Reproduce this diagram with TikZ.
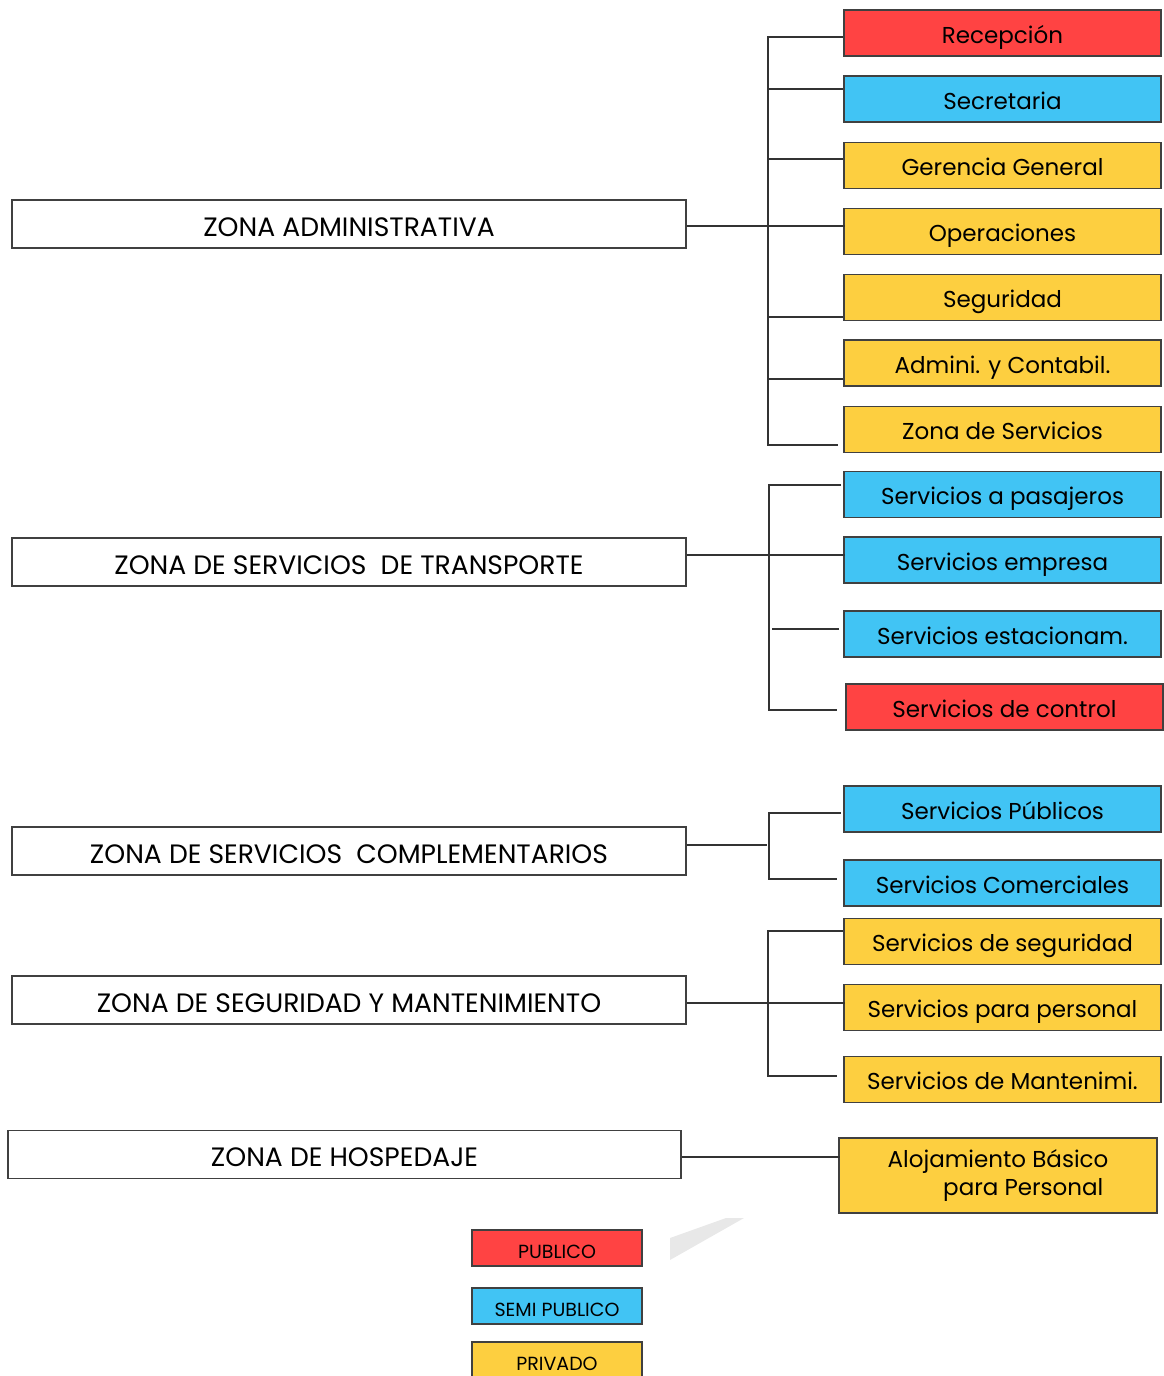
\documentclass[tikz,border=0pt]{standalone}
\usepackage{fontspec}
\setmainfont{Poppins}
\usepackage{tikz}
\usetikzlibrary{calc, positioning}

\definecolor{pubred}{HTML}{FF4343}
\definecolor{semiblue}{HTML}{41C4F4}
\definecolor{privyel}{HTML}{FDCF40}

\tikzset{
	zona/.style={draw=black!75, fill=white, line width=0.9pt, minimum width=337pt, minimum height=24pt, inner sep=0pt, text height=12pt, text depth=0pt, font=\fontsize{13.3}{15}\selectfont},
	area/.style={draw=black!75, line width=0.9pt, minimum width=158.5pt, minimum height=23pt, inner sep=0pt, text height=10pt, text depth=0pt, font=\fontsize{11.5}{14}\selectfont},
	leyenda/.style={draw=black!75, line width=0.9pt, minimum width=85pt, minimum height=18pt, inner sep=0pt, text height=10pt, text depth=0pt, font=\fontsize{9.5}{11}\selectfont},
	conn/.style={draw=black!80, line width=0.75pt}
}

\begin{document}
\begin{tikzpicture}[x=0.5pt, y=-0.5pt]
			\useasboundingbox (0,0) rectangle (1163,1376);
			
			% Zonas
			\node[zona] (zadm) at (349,224) {ZONA ADMINISTRATIVA};
			\node[zona] (ztra) at (349,562) {ZONA DE SERVICIOS\ \ DE TRANSPORTE};
			\node[zona] (zcom) at (349,851) {ZONA DE SERVICIOS\ \ COMPLEMENTARIOS};
			\node[zona] (zseg) at (349,1000) {ZONA DE SEGURIDAD Y MANTENIMIENTO};
			\node[zona, minimum width=336.5pt] (zhos) at (344.5,1154.5) {ZONA DE HOSPEDAJE};
			
			% Zona administrativa
			\node[area, fill=pubred] (recep) at (1002.5,33) {Recepción};
			\node[area, fill=semiblue] (secre) at (1002.5,99) {Secretaria};
			\node[area, fill=privyel] (geren) at (1002.5,165.5) {Gerencia General};
			\node[area, fill=privyel] (oper) at (1002.5,231.5) {Operaciones};
			\node[area, fill=privyel] (segur) at (1002.5,297.5) {Seguridad};
			\node[area, fill=privyel] (admin) at (1002.5,363) {Admini. y Contabil.};
			\node[area, fill=privyel] (zserv) at (1002.5,429.5) {Zona de Servicios};
			
			\draw[conn] ([yshift=-1pt]zadm.east) -- ++(158,0);
			\draw[conn, shorten >=2.5pt] ([yshift=-2pt]recep.west) -- ++(-75,0) |- ([yshift=-7.75pt]zserv.west);
			\draw[conn] ([yshift=5pt]secre.west) -- ++(-75,0);
			\draw[conn] ([yshift=3.25pt]geren.west) -- ++(-75,0);
			\draw[conn] ([yshift=-9.75pt]segur.west) -- ++(-75,0);
			\draw[conn] ([yshift=-8pt]admin.west) -- ++(-75,0);
			
			% Servicios de transporte
			\node[area, fill=semiblue] (pasaj) at (1002.5,494.5) {Servicios a pasajeros};
			\node[area, fill=semiblue] (empre) at (1002.5,560) {Servicios empresa};
			\node[area, fill=semiblue] (estac) at (1002.5,634) {Servicios estacionam.};
			\node[area, fill=pubred] (contr) at (1004.5,707) {Servicios de control};
			
			\draw[conn] ([yshift=3.5pt]ztra.east) -- ++(158,0);
			\draw[conn, shorten <=1pt, shorten >=4pt] ([yshift=4.75pt]pasaj.west) -- ++(-74,0) |- ([yshift=-1.5pt]contr.west);
			\draw[conn] ([xshift=-2pt, yshift=2.5pt]estac.west) -- ++(-67,0);
			
			% Servicios complementarios
			\node[area, fill=semiblue] (publi) at (1002.5,809) {Servicios Públicos};
			\node[area, fill=semiblue] (comer) at (1002.5,883) {Servicios Comerciales};
			
			\draw[conn] ([yshift=3pt]zcom.east) -- ++(80,0);
			\draw[conn, shorten <=1pt, shorten >=3pt] ([yshift=-2pt]publi.west) -- ++(-74,0) |- ([yshift=2pt]comer.west);
			
			% Seguridad y mantenimiento
			\node[area, fill=privyel] (sseg) at (1002.5,941.5) {Servicios de seguridad};
			\node[area, fill=privyel] (spers) at (1002.5,1007.5) {Servicios para personal};
			\node[area, fill=privyel] (smant) at (1002.5,1079.5) {Servicios de Mantenimi.};
			
			\draw[conn] ([yshift=-1.5pt]zseg.east) -- ++(158,0);
			\draw[conn, shorten >=3pt] ([yshift=5.25pt]sseg.west) -- ++(-75,0) |- ([yshift=1.75pt]smant.west);
			
			% Hospedaje
			\node[area, fill=privyel, minimum width=159pt, minimum height=37.5pt, text height=, text depth=, align=center] (aloja) at (998,1175.5) {Alojamiento Básico\\\hspace*{2.2em}para Personal};
			\draw[conn] ([yshift=-1.25pt]zhos.east) -- ++(158,0);
			
			% Leyenda
			\fill[gray!18] (670,1238) -- (726,1218) -- (744,1218) -- (670,1260) -- cycle;
			\node[leyenda, fill=pubred] (lpub) at (557,1248) {PUBLICO};
			\node[leyenda, fill=semiblue] (lsemi) at (557,1306) {SEMI PUBLICO};
			\node[leyenda, fill=privyel] (lpriv) at (557,1360) {PRIVADO};
		\end{tikzpicture}
\end{document}
